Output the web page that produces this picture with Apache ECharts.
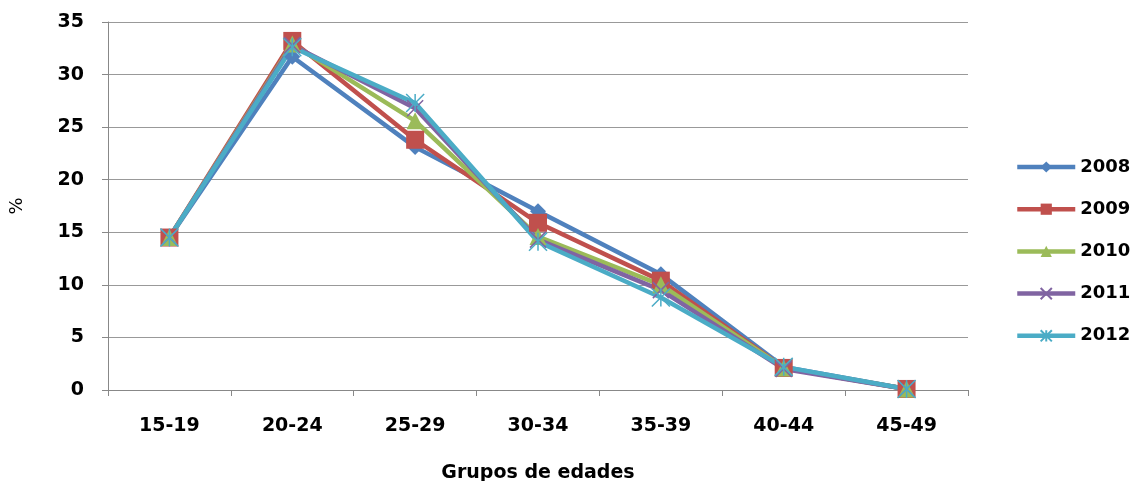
<!DOCTYPE html>
<html><head><meta charset="utf-8">
<script src="https://cdn.jsdelivr.net/npm/echarts@6/dist/echarts.min.js"></script>
<style>html,body{margin:0;padding:0;background:#fff}#c{width:1135px;height:481px}</style>
</head><body><div id="c"></div>
<script>
const categories = ['15-19','20-24','25-29','30-34','35-39','40-44','45-49'];
const years = ['2008','2009','2010','2011','2012'];
const s2008 = [14.5, 31.7, 23.1, 17.0, 11.0, 2.2, 0.1];
const s2009 = [14.5, 33.2, 23.8, 15.9, 10.4, 2.1, 0.1];
const s2010 = [14.5, 32.9, 25.6, 14.6, 10.0, 2.1, 0.1];
const s2011 = [14.5, 32.8, 26.8, 14.3, 9.5, 2.0, 0.1];
const s2012 = [14.5, 32.6, 27.3, 14.1, 8.8, 2.2, 0.1];
const yTicks = [0,5,10,15,20,25,30,35];

const colors = ['#4F81BD','#C0504D','#9BBB59','#8064A2','#4BACC6'];
const symbols = ['diamond','rect','triangle','path://M0 0 L10 10 M10 0 L0 10','path://M0 0 L10 10 M10 0 L0 10 M5 0 L5 10'];
const sizes = [16,18,17,16,18];
const data = [s2008,s2009,s2010,s2011,s2012];
const font = '"DejaVu Sans", sans-serif';

const series = years.map((y,i)=>{
  const cross = i>=3;
  return {
    name: y, type: 'line', data: data[i],
    symbol: symbols[i], symbolSize: sizes[i], showAllSymbol: true,
    lineStyle: {color: colors[i], width: 4.5},
    itemStyle: cross ? {color: 'rgba(0,0,0,0)', borderColor: colors[i], borderWidth: 1.5} : {color: colors[i], borderWidth: 0},
    emphasis: {disabled: true},
    animation: false
  };
});

const chart = echarts.init(document.getElementById('c'), null, {renderer:'canvas'});
chart.setOption({
  animation: false,
  color: colors,
  grid: {left: 108, right: 167, top: 22, bottom: 91, containLabel: false, outerBoundsMode: 'none'},
  legend: {
    orient: 'vertical', left: 1015, top: 158, padding: 0,
    itemWidth: 58, itemHeight: 14, itemGap: 24.2,
    lineStyle: {width: 4.5},
    textStyle: {fontFamily: font, fontSize: 18, fontWeight: 'bold', color: '#000'},
    data: years
  },
  xAxis: {
    type: 'category', data: categories, boundaryGap: true,
    axisLine: {lineStyle: {color: '#888', width: 1}},
    axisTick: {show: true, length: 6, lineStyle: {color: '#888'}},
    axisLabel: {fontFamily: font, fontSize: 19, fontWeight: 'bold', color: '#000', margin: 27},
    name: 'Grupos de edades', nameLocation: 'middle', nameGap: 74,
    nameTextStyle: {fontFamily: font, fontSize: 19, fontWeight: 'bold', color: '#000'}
  },
  yAxis: {
    type: 'value', min: 0, max: 35, interval: 5,
    axisLine: {show: true, lineStyle: {color: '#888', width: 1}},
    axisTick: {show: true, length: 6, lineStyle: {color: '#888'}},
    splitLine: {show: true, lineStyle: {color: '#999', width: 1}},
    axisLabel: {fontFamily: font, fontSize: 19, fontWeight: 'bold', color: '#000', margin: 24,
      formatter: v => yTicks.includes(v) ? String(v) : ''},
    name: '%', nameLocation: 'middle', nameGap: 82, nameRotate: 90,
    nameTextStyle: {fontFamily: font, fontSize: 18, color: '#000'}
  },
  series: series
});
</script></body></html>
